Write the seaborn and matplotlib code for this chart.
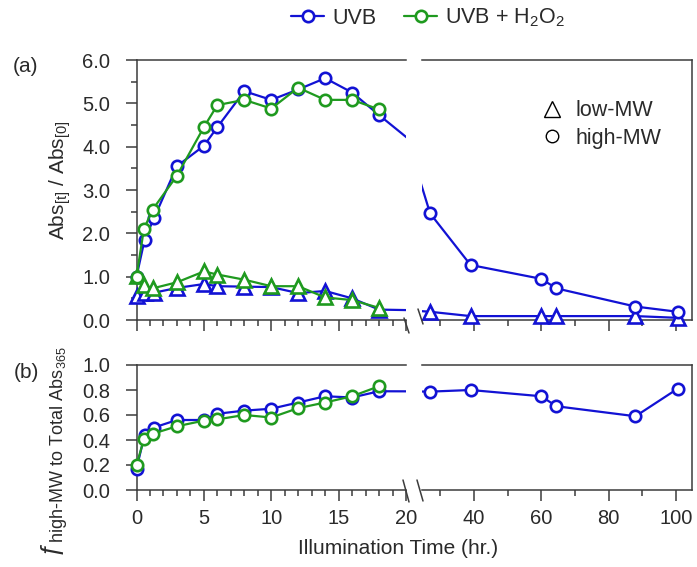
import numpy as np
import pandas as pd
import matplotlib
matplotlib.use("Agg")
import matplotlib.pyplot as plt
from matplotlib.lines import Line2D
from matplotlib.ticker import MultipleLocator, FormatStrFormatter
import seaborn as sns

# ---------------- data ----------------
t_uvb = [0, 0.6, 1.3, 3, 5, 6, 8, 10, 12, 14, 16, 18, 27, 39, 60, 64.5, 88, 100.5]
uvb_high = [1.0, 1.85, 2.35, 3.55, 4.02, 4.45, 5.28, 5.08, 5.32, 5.58, 5.25, 4.73,
            2.46, 1.27, 0.95, 0.73, 0.31, 0.19]
uvb_low = [0.55, 0.62, 0.63, 0.74, 0.83, 0.78, 0.77, 0.76, 0.62, 0.67, 0.50, 0.24,
           0.19, 0.09, 0.09, 0.09, 0.09, 0.05]
uvb_frac = [0.17, 0.44, 0.50, 0.56, 0.56, 0.61, 0.635, 0.65, 0.70, 0.75, 0.74, 0.79,
            0.787, 0.80, 0.75, 0.67, 0.59, 0.81]

t_h2o2 = [0, 0.55, 1.2, 3, 5, 6, 8, 10, 12, 14, 16, 18]
h2o2_high = [1.0, 2.1, 2.55, 3.33, 4.45, 4.96, 5.08, 4.88, 5.36, 5.08, 5.08, 4.86]
h2o2_low = [1.02, 0.80, 0.73, 0.87, 1.12, 1.05, 0.93, 0.78, 0.78, 0.52, 0.46, 0.28]
h2o2_frac = [0.20, 0.405, 0.45, 0.51, 0.555, 0.565, 0.60, 0.58, 0.655, 0.70, 0.75, 0.83]

series_labels = ["UVB", "UVB + H$_2$O$_2$"]
shape_labels = ["low-MW", "high-MW"]
top_yticks = [0, 1, 2, 3, 4, 5, 6]
bot_yticks = [0.0, 0.2, 0.4, 0.6, 0.8, 1.0]
left_xticks = [0, 5, 10, 15, 20]
right_xticks = [40, 60, 80, 100]

BLUE = "#1212d4"
GREEN = "#1f9a1f"
SPINE = "#3c3c3c"
TXT = "#2a2a2a"

# ---------------- style ----------------
sns.set_theme(style="ticks")
plt.rcParams["font.family"] = ["Liberation Sans", "DejaVu Sans"]
plt.rcParams["mathtext.fontset"] = "custom"
plt.rcParams["mathtext.rm"] = "Liberation Sans"
plt.rcParams["mathtext.it"] = "Liberation Sans:italic"
plt.rcParams["mathtext.bf"] = "Liberation Sans:bold"

W, H = 697, 567
fig = plt.figure(figsize=(W / 100, H / 100), dpi=100)


def rect(x0, x1, y0, y1):
    return [x0 / W, 1 - y1 / H, (x1 - x0) / W, (y1 - y0) / H]


ax_tl = fig.add_axes(rect(136.5, 406, 60, 320))
ax_tr = fig.add_axes(rect(421.7, 691.7, 60, 320))
ax_bl = fig.add_axes(rect(136.5, 406, 365, 490))
ax_br = fig.add_axes(rect(421.7, 691.7, 365, 490))

LEFT_LIM = (0, 20)
RIGHT_LIM = (24.5, 104.7)

MS = 8.2
MEW = 1.9
LW = 1.6


def draw(ax, x, y, color, marker, lim, z):
    df = pd.DataFrame({"t": x, "v": y})
    sns.lineplot(data=df, x="t", y="v", ax=ax, color=color, lw=LW, sort=False,
                 estimator=None, errorbar=None, legend=False, zorder=z)
    sub = df[(df["t"] >= lim[0]) & (df["t"] <= lim[1])]
    msz = MS + 1.8 if marker == "^" else MS
    sns.lineplot(data=sub, x="t", y="v", ax=ax, color=color, linestyle="",
                 marker=marker, markersize=msz, markerfacecolor="white",
                 markeredgecolor=color, markeredgewidth=MEW, sort=False,
                 estimator=None, errorbar=None, legend=False, clip_on=False,
                 zorder=z + 0.05)


for ax, lim in [(ax_tl, LEFT_LIM), (ax_tr, RIGHT_LIM)]:
    draw(ax, t_uvb, uvb_low, BLUE, "^", lim, 3.0)
    draw(ax, t_uvb, uvb_high, BLUE, "o", lim, 3.1)
    draw(ax, t_h2o2, h2o2_low, GREEN, "^", lim, 3.2)
    draw(ax, t_h2o2, h2o2_high, GREEN, "o", lim, 3.3)
for ax, lim in [(ax_bl, LEFT_LIM), (ax_br, RIGHT_LIM)]:
    draw(ax, t_uvb, uvb_frac, BLUE, "o", lim, 3.0)
    draw(ax, t_h2o2, h2o2_frac, GREEN, "o", lim, 3.2)

# ---------------- axes styling ----------------
for ax in [ax_tl, ax_tr, ax_bl, ax_br]:
    ax.set_xlabel("")
    ax.set_ylabel("")
    for s in ax.spines.values():
        s.set_color(SPINE)
        s.set_linewidth(1.1)
    ax.tick_params(which="major", direction="out", length=8, width=1.1,
                   color=SPINE, labelsize=14.5, labelcolor=TXT)
    ax.tick_params(which="minor", direction="out", length=4.2, width=1.1,
                   color=SPINE)
    ax.tick_params(axis="x", pad=6)
    ax.tick_params(axis="y", pad=11)

for ax in [ax_tl, ax_bl]:
    ax.set_xlim(*LEFT_LIM)
    ax.set_xticks(left_xticks)
    ax.xaxis.set_minor_locator(MultipleLocator(1))
    ax.spines["right"].set_visible(False)
    ax.spines["top"].set_visible(True)

for ax in [ax_tr, ax_br]:
    ax.set_xlim(*RIGHT_LIM)
    ax.set_xticks(right_xticks)
    ax.xaxis.set_minor_locator(MultipleLocator(10))
    ax.spines["left"].set_visible(False)
    ax.spines["right"].set_visible(True)
    ax.spines["top"].set_visible(True)
    ax.tick_params(axis="y", which="both", left=False, right=False,
                   labelleft=False)

for ax in [ax_tl, ax_tr]:
    ax.set_ylim(0, 6)
    ax.set_yticks(top_yticks)
    ax.tick_params(axis="x", labelbottom=False)
ax_tl.yaxis.set_minor_locator(MultipleLocator(0.5))
ax_tl.yaxis.set_major_formatter(FormatStrFormatter("%.1f"))

for ax in [ax_bl, ax_br]:
    ax.set_ylim(0, 1.0)
    ax.set_yticks(bot_yticks)
ax_bl.yaxis.set_major_formatter(FormatStrFormatter("%.1f"))

# ---------------- axis break marks ----------------
def brk(x0, y0, x1, y1):
    fig.add_artist(Line2D([x0 / W, x1 / W], [1 - y0 / H, 1 - y1 / H],
                          transform=fig.transFigure, color=SPINE, lw=1.1))

brk(404, 318, 409, 333)
brk(418, 309, 423, 324)
brk(403, 480, 409, 502)
brk(417, 480, 423, 501)

# ---------------- texts ----------------
fig.text(26 / W, 1 - 66 / H, "(a)", ha="center", va="center", fontsize=15, color=TXT)
fig.text(26 / W, 1 - 373 / H, "(b)", ha="center", va="center", fontsize=15, color=TXT)
fig.text(60 / W, 1 - 180 / H, r"Abs$_{\mathrm{[t]}}$ / Abs$_{\mathrm{[0]}}$",
         rotation=90, ha="center", va="center", fontsize=15, color=TXT)
fig.text(55 / W, 1 - 452 / H,
         r"ƒ$_{\mathrm{high\text{-}MW\ to\ Total\ Abs_{365}}}$",
         rotation=90, ha="center", va="center", fontsize=18.5, color=TXT)
fig.text(398 / W, 1 - 548 / H, "Illumination Time (hr.)", ha="center",
         va="center", fontsize=15, color=TXT)

# ---------------- legends ----------------
h_series = [
    Line2D([], [], color=BLUE, lw=LW, marker="o", markersize=MS,
           markerfacecolor="white", markeredgecolor=BLUE, markeredgewidth=MEW),
    Line2D([], [], color=GREEN, lw=LW, marker="o", markersize=MS,
           markerfacecolor="white", markeredgecolor=GREEN, markeredgewidth=MEW),
]
fig.legend(h_series, series_labels, loc="center", ncol=2, frameon=False,
           bbox_to_anchor=(428 / W, 1 - 18 / H), fontsize=15.5,
           handlelength=1.55, handletextpad=0.35, columnspacing=1.3,
           labelcolor=TXT)

h_shape = [
    Line2D([], [], linestyle="", marker="^", markersize=11, color="black",
           markerfacecolor="white", markeredgewidth=1.0),
    Line2D([], [], linestyle="", marker="o", markersize=9, color="black",
           markerfacecolor="white", markeredgewidth=1.0),
]
fig.legend(h_shape, shape_labels, loc="upper left", frameon=False,
           bbox_to_anchor=(522 / W, 1 - 81 / H), fontsize=15.5,
           handlelength=1.0, handletextpad=0.6, labelspacing=0.3,
           labelcolor=TXT)

fig.savefig("out.png", dpi=100)
